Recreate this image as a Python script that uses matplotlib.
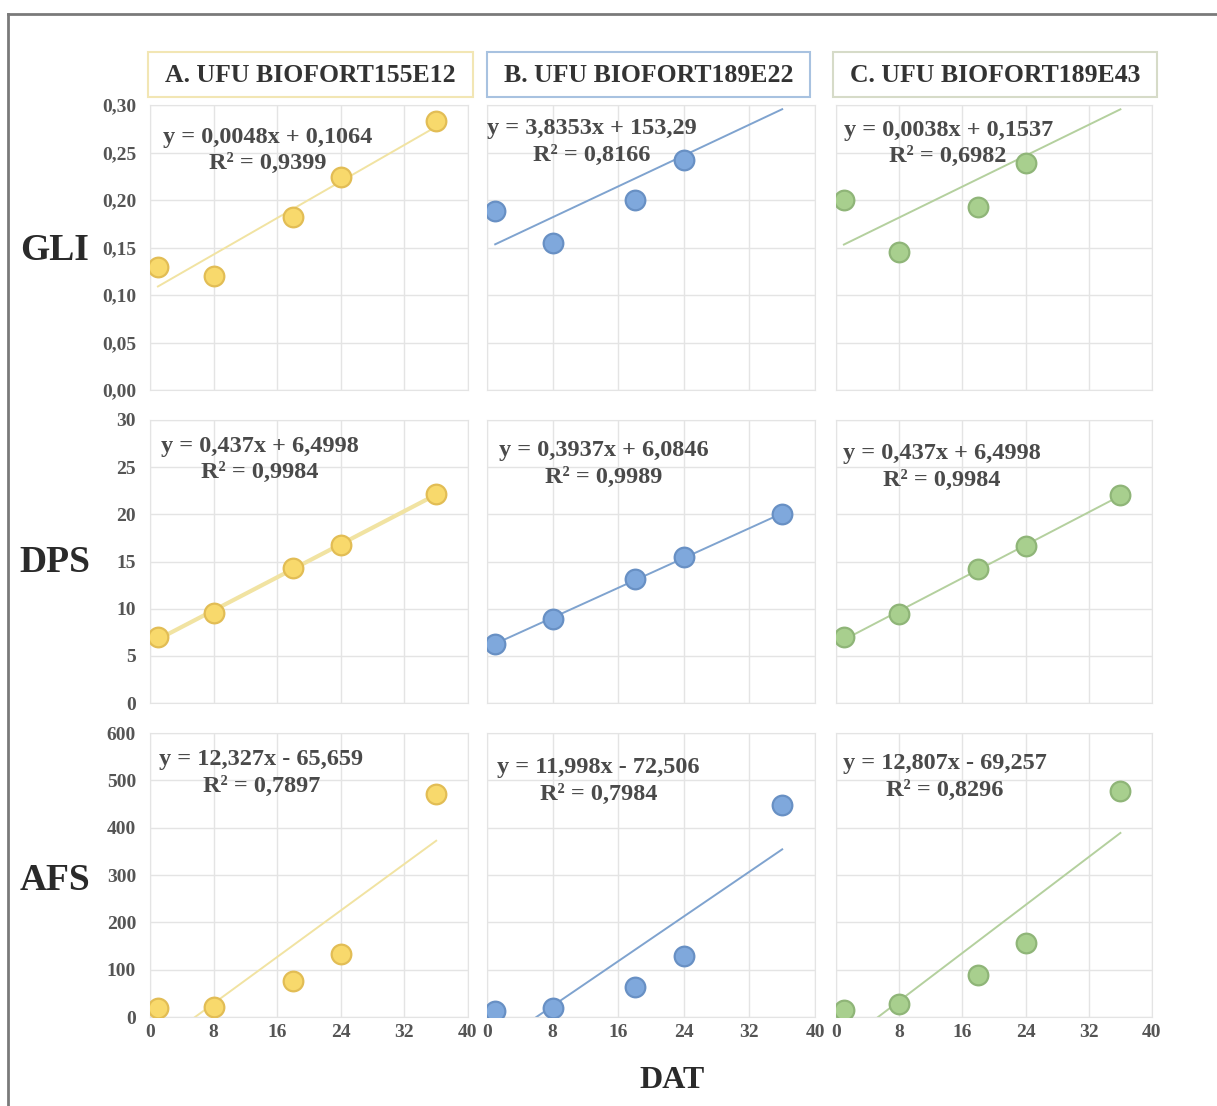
import numpy as np
import matplotlib.pyplot as plt
from matplotlib.ticker import FuncFormatter, MultipleLocator
from matplotlib.patches import Rectangle
from matplotlib.lines import Line2D

# days after transplanting
dat = [1, 8, 18, 24, 36]

# GLI (last value of B and C sits above the 0,30 axis limit, so it is hidden)
gli_a = [0.130, 0.120, 0.182, 0.224, 0.283]
gli_b = [0.188, 0.155, 0.200, 0.242, 0.315]
gli_c = [0.200, 0.145, 0.193, 0.239, 0.322]

# DPS
dps_a = [7.0, 9.5, 14.3, 16.7, 22.2]
dps_b = [6.3, 8.9, 13.1, 15.5, 20.0]
dps_c = [7.0, 9.4, 14.2, 16.6, 22.1]

# AFS
afs_a = [19, 21, 76, 133, 471]
afs_b = [13, 19, 63, 129, 448]
afs_c = [15, 27, 89, 156, 478]

titles = ["A. UFU BIOFORT155E12", "B. UFU BIOFORT189E22", "C. UFU BIOFORT189E43"]
row_names = ["GLI", "DPS", "AFS"]

# equation labels as printed on the chart
eq_gli = ["y = 0,0048x + 0,1064\nR² = 0,9399",
          "y = 3,8353x + 153,29\nR² = 0,8166",
          "y = 0,0038x + 0,1537\nR² = 0,6982"]
eq_dps = ["y = 0,437x + 6,4998\nR² = 0,9984",
          "y = 0,3937x + 6,0846\nR² = 0,9989",
          "y = 0,437x + 6,4998\nR² = 0,9984"]
eq_afs = ["y = 12,327x - 65,659\nR² = 0,7897",
          "y = 11,998x - 72,506\nR² = 0,7984",
          "y = 12,807x - 69,257\nR² = 0,8296"]

W, H = 1217, 1106
fig = plt.figure(figsize=(W / 100, H / 100), dpi=100)
serif = "Liberation Serif"

# colours per cultivar
face = ["#f8d96c", "#7fa8dc", "#a8cf8e"]
edge = ["#e2bd55", "#6890c4", "#8fb578"]
line_col = ["#f1e3a2", "#7fa3cf", "#b4d09e"]
box_col = ["#f2e6b4", "#a8c2e0", "#d6dbc8"]

cols_px = [(150, 468), (487, 815), (836, 1152)]
rows_px = [(105, 390), (420, 703), (733, 1017)]

rows = [
    ([gli_a, gli_b, gli_c], eq_gli, (0, 0.30), 0.05),
    ([dps_a, dps_b, dps_c], eq_dps, (0, 30), 5),
    ([afs_a, afs_b, afs_c], eq_afs, (0, 600), 100),
]
# equation text position (axes fraction), per row/col
eq_pos = [
    [(0.37, 0.84), (0.32, 0.87), (0.355, 0.865)],
    [(0.345, 0.86), (0.355, 0.845), (0.335, 0.835)],
    [(0.35, 0.86), (0.34, 0.83), (0.345, 0.845)],
]

def gli_fmt(v, pos):
    return ("%.2f" % v).replace(".", ",")

def int_fmt(v, pos):
    return "%d" % round(v)

for r, (series, eqs, ylim, ystep) in enumerate(rows):
    ytop, ybot = rows_px[r]
    for c in range(3):
        x0, x1 = cols_px[c]
        ax = fig.add_axes([x0 / W, 1 - ybot / H, (x1 - x0) / W, (ybot - ytop) / H])
        y = np.array(series[c])
        x = np.array(dat)

        # linear trend line over the data range
        k, b = np.polyfit(x, y, 1)
        xs = np.array([x.min(), x.max()])
        lw = 3.0 if (r == 1 and c == 0) else 1.4
        ax.plot(xs, k * xs + b, color=line_col[c], lw=lw, zorder=2)
        ax.scatter(x, y, s=200, color=face[c], edgecolors=edge[c], linewidths=1.6, zorder=3)

        ax.set_xlim(0, 40)
        ax.set_ylim(*ylim)
        ax.xaxis.set_major_locator(MultipleLocator(8))
        ax.yaxis.set_major_locator(MultipleLocator(ystep))
        ax.grid(True, color="#e4e4e4", lw=1)
        ax.set_axisbelow(True)
        for s in ax.spines.values():
            s.set_color("#e4e4e4")
        ax.tick_params(length=0, labelsize=14, labelcolor="#555555", pad=10)
        for lab in ax.get_xticklabels() + ax.get_yticklabels():
            lab.set_fontfamily(serif)
            lab.set_fontweight("bold")
        if r == 0:
            ax.yaxis.set_major_formatter(FuncFormatter(gli_fmt))
        else:
            ax.yaxis.set_major_formatter(FuncFormatter(int_fmt))
        ax.xaxis.set_major_formatter(FuncFormatter(int_fmt))
        if c != 0:
            ax.set_yticklabels([])
        if r != 2:
            ax.set_xticklabels([])
        else:
            ax.tick_params(axis="x", pad=5)

        tx, ty = eq_pos[r][c]
        ax.text(tx, ty, eqs[c], transform=ax.transAxes, ha="center", va="center",
                multialignment="center", fontsize=17.5, fontfamily=serif,
                fontweight="bold", color="#4a4a4a", linespacing=1.35, zorder=4)

# column title boxes
title_px = [(148, 473), (487, 810), (833, 1157)]
for c in range(3):
    bx0, bx1 = title_px[c]
    fig.patches.append(Rectangle((bx0 / W, 1 - 97 / H), (bx1 - bx0) / W, 45 / H,
                                 transform=fig.transFigure, fill=False,
                                 edgecolor=box_col[c], lw=1.5))
    fig.text((bx0 + bx1) / 2 / W, 1 - 75 / H, titles[c], ha="center", va="center",
             fontsize=18.5, fontfamily=serif, fontweight="bold", color="#333333")

# row labels
row_y = [250, 562, 880]
for name, yy in zip(row_names, row_y):
    fig.text(55 / W, 1 - yy / H, name, ha="center", va="center", fontsize=27,
             fontfamily=serif, fontweight="bold", color="#2a2a2a")

fig.text(672 / W, 1 - 1080 / H, "DAT", ha="center", va="center", fontsize=23,
         fontfamily=serif, fontweight="bold", color="#2a2a2a")

# outer frame (left and top edges visible)
fig.lines.append(Line2D([8 / W, 8 / W], [0, 1 - 14 / H], transform=fig.transFigure,
                        color="#7a7a7a", lw=2))
fig.lines.append(Line2D([8 / W, 1], [1 - 14 / H, 1 - 14 / H], transform=fig.transFigure,
                        color="#7a7a7a", lw=2))

fig.savefig("out.png", dpi=100, facecolor="white")
